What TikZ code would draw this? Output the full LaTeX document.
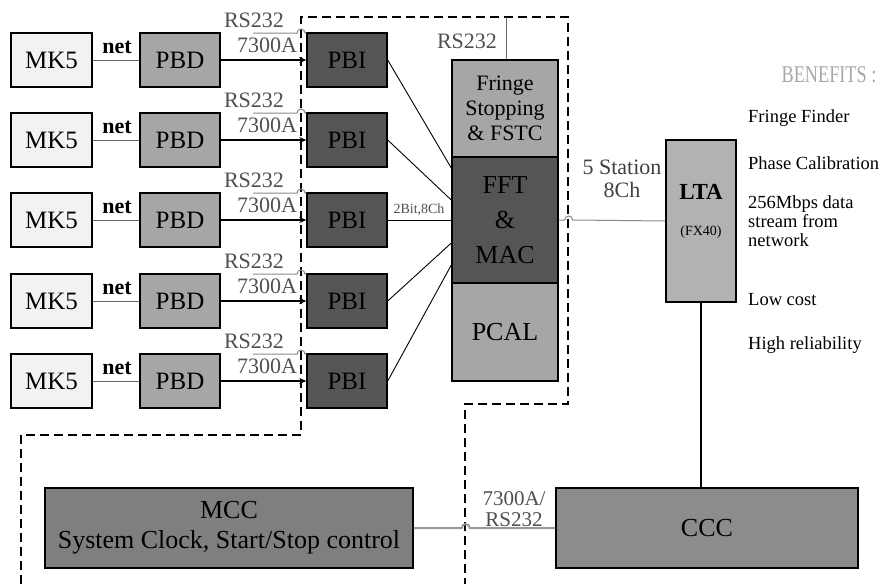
\documentclass[tikz,border=0pt]{standalone}
\usepackage{fontspec}
\setmainfont{Liberation Serif}
\usetikzlibrary{arrows.meta}
\definecolor{lightbox}{HTML}{F2F2F2}
\definecolor{midbox}{HTML}{A6A6A6}
\definecolor{darkbox}{HTML}{555555}
\definecolor{ltabox}{HTML}{B2B2B2}
\definecolor{mccbox}{HTML}{7F7F7F}
\definecolor{cccbox}{HTML}{8C8C8C}
\definecolor{labelgray}{HTML}{505050}
\definecolor{wiregray}{HTML}{8A8A8A}
\definecolor{bengray}{HTML}{A8A8A8}
\newcommand\fsz[2]{\rmfamily\fontsize{#1pt}{#2pt}\selectfont}
\tikzset{
  unit/.style={draw=black, line width=1.4pt, inner sep=0pt, align=center,
               font=\fsz{25}{27}},
  mkbox/.style={unit, fill=lightbox, minimum width=81pt, minimum height=54pt},
  pbdbox/.style={unit, fill=midbox, minimum width=80pt, minimum height=54pt},
  pbibox/.style={unit, fill=darkbox, minimum width=80pt, minimum height=54pt},
  wirelbl/.style={inner sep=0pt, text=labelgray, font=\fsz{22}{23}},
  netwire/.style={draw=black!60, line width=1pt},
  sigwire/.style={draw=wiregray, line width=1pt},
  datawire/.style={draw=black, line width=2pt, -{Stealth[length=7pt,width=6pt]}},
  fanwire/.style={draw=black, line width=0.9pt},
  boundary/.style={draw=black, line width=2pt, dash pattern=on 9pt off 5pt},
  benefit/.style={anchor=west, inner sep=0pt, align=left, font=\fsz{18.5}{19}}
}
\begin{document}
\begin{tikzpicture}[x=1pt, y=-1pt]
\useasboundingbox (0,0) rectangle (885,584);

% crate boundaries
\draw[boundary] (21,584) -- (21,435) -- (301,435) -- (301,17) -- (568,17)
  -- (568,404) -- (465,404) -- (465,584);

% station chains: MK5 -> PBD -> PBI
\foreach \r/\y in {1/60,2/140,3/220,4/301,5/381}{
  \node[mkbox]  (mk\r)  at (51.5,\y) {MK5};
  \node[pbdbox] (pbd\r) at (180,\y)  {PBD};
  \node[pbibox] (pbi\r) at (347,\y)  {PBI};
  \draw[netwire] (mk\r) -- (pbd\r);
  \node[inner sep=0pt, font=\fsz{22}{23}\bfseries] at (117,\y-13) {net};
  \draw[datawire] (pbd\r) -- (pbi\r);
  \node[wirelbl] at (254,\y-40) {RS232};
  \node[wirelbl] at (267,\y-15) {7300A};
  \coordinate (rs\r) at (253,\y-27);
  \draw[sigwire] (rs\r) -- (297,\y-27) arc[start angle=180, end angle=0, radius=4pt]
    -- (pbi\r.north west);
}

% correlator stack
\node[unit, fill=midbox, minimum width=106pt, minimum height=97pt,
      font=\fsz{22}{25}] (fringe) at (505,108.5) {Fringe\\Stopping\\\& FSTC};
\node[unit, fill=darkbox, minimum width=106pt, minimum height=126pt,
      font=\fsz{26}{35}] (fft) at (505,220) {FFT\\\&\\MAC};
\node[unit, fill=midbox, minimum width=106pt, minimum height=98pt,
      font=\fsz{26}{28}] (pcal) at (505,332) {PCAL};

\coordinate (rstop) at (506,17);
\draw[sigwire, draw=black!60] (fringe.north -| rstop) -- (rstop);
\node[wirelbl] at (467,41) {RS232};

% PBI outputs into the FFT/MAC block
\foreach \r/\dy in {1/52,2/20,3/0,4/-23,5/-45}{
  \draw[fanwire] (pbi\r.east) -- ([yshift=\dy pt]fft.west);
}
\node[inner sep=0pt, font=\fsz{14}{15}, text=labelgray] at (419,210) {2Bit,8Ch};

% long term accumulator
\node[unit, fill=ltabox, minimum width=70pt, minimum height=162pt] (lta) at (701,221) {};
\node[inner sep=0pt, font=\fsz{23}{24}\bfseries] at (701,192) {LTA};
\node[inner sep=0pt, font=\fsz{14}{15}] at (701,232) {(FX40)};
\draw[sigwire] (fft.east) -- ++(6,0) arc[start angle=180, end angle=0, radius=4pt]
  -- (lta.west);
\node[inner sep=0pt, align=center, text=black!75, font=\fsz{22}{23}] at (622,179)
  {5 Station\\8Ch};

% control computers
\node[unit, fill=mccbox, minimum width=368pt, minimum height=80pt,
      font=\fsz{26}{30}] (mcc) at (229,528) {MCC\\System Clock, Start/Stop control};
\node[unit, fill=cccbox, minimum width=302pt, minimum height=80pt,
      font=\fsz{26}{28}] (ccc) at (707,528) {CCC};
\draw[draw=black!40, line width=2pt] (mcc.east) -- ++(48,0)
  arc[start angle=180, end angle=0, radius=4pt] -- (ccc.west);
\node[wirelbl, align=center, font=\fsz{21}{21}] at (514,509) {7300A/\\RS232};
\draw[draw=black, line width=1.2pt] (lta.south) -- (lta.south |- ccc.north);

% benefits list
\node[inner sep=0pt, text=bengray, font=\fsz{24}{25}] at (829,75)
  {\scalebox{0.76}[1]{BENEFITS :}};
\node[benefit] at (748,118) {Fringe Finder};
\node[benefit] at (748,163) {Phase Calibration};
\node[benefit] at (748,221) {256Mbps data\\stream from\\network};
\node[benefit] at (748,300) {Low cost};
\node[benefit] at (748,345) {High reliability};
\end{tikzpicture}
\end{document}
